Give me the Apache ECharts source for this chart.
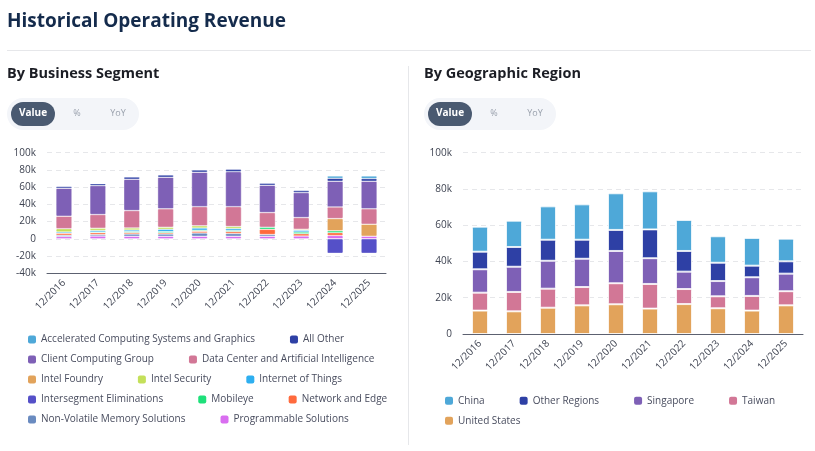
<!DOCTYPE html>
<html lang="en">
  <head>
    <meta charset="UTF-8" />
    <meta name="viewport" content="width=device-width, initial-scale=1.0" />
    <title>Historical Operating Revenue</title>
    <style>
      html,
      body {
        margin: 0;
        padding: 0;
        background: #fff;
      }
      #container {
        width: 815px;
        height: 451px;
      }
    </style>
    <script src="https://cdn.jsdelivr.net/npm/echarts@6/dist/echarts.min.js"></script>
  </head>
  <body>
    <div id="container"></div>
    <script>
      const years = ['12/2016', '12/2017', '12/2018', '12/2019', '12/2020', '12/2021', '12/2022', '12/2023', '12/2024', '12/2025']

      // business segments, $M
      const acceleratedComputing = [null, null, null, null, null, null, null, null, 2700, 3000]
      const allOther = [2000, 2300, 2600, 2700, 2700, 2800, 2300, 2300, 3400, 3100]
      const clientComputing = [32400, 33600, 36400, 36700, 39900, 40600, 31700, 29000, 29800, 32100]
      const dataCenterAI = [14500, 15800, 20100, 21300, 22300, 23100, 17000, 13500, 13600, 17800]
      const intelFoundry = [null, null, null, null, null, null, null, 1200, 14200, 13900]
      const intelSecurity = [3800, 2600, 2300, 2300, 2500, 2300, null, null, null, null]
      const internetOfThings = [1500, 2000, 2000, 2800, 2600, 2200, null, 2100, null, null]
      const intersegmentElim = [null, null, null, null, null, null, null, null, -16800, -16800]
      const mobileye = [null, 600, 1000, 1200, 1200, 1400, 2500, 2000, 2100, null]
      const networkEdge = [2200, 2200, 1800, 1600, 2000, 2200, 6000, 2600, 3300, null]
      const nonVolatileMemory = [1500, 1800, 2600, 2600, 3800, 3200, 2000, null, null, null]
      const programmable = [2800, 3200, 3000, 3000, 3000, 3000, 3000, 3300, 3900, 3100]

      // geographic regions, $M
      const china = [13800, 14500, 18400, 19500, 20200, 21000, 17100, 14600, 15300, 12500]
      const otherRegions = [9700, 10900, 11600, 10500, 11600, 15900, 11400, 10100, 6400, 6800]
      const singapore = [12900, 13900, 15400, 15600, 17800, 14200, 9600, 8400, 10300, 9700]
      const taiwan = [9900, 10700, 10500, 10100, 11600, 13600, 8300, 6600, 8100, 7800]
      const unitedStates = [12900, 12500, 14500, 15800, 16400, 14000, 16500, 14200, 12900, 15800]

      // bottom of the stack first
      const segmentSeries = [
        ['Programmable Solutions', programmable, '#d96ef0'],
        ['Non-Volatile Memory Solutions', nonVolatileMemory, '#6a8bc0'],
        ['Network and Edge', networkEdge, '#ff6a3d'],
        ['Mobileye', mobileye, '#1ee07a'],
        ['Internet of Things', internetOfThings, '#2eaff0'],
        ['Intel Security', intelSecurity, '#c4e05a'],
        ['Intel Foundry', intelFoundry, '#e2a35b'],
        ['Data Center and Artificial Intelligence', dataCenterAI, '#d27796'],
        ['Client Computing Group', clientComputing, '#7e60b6'],
        ['All Other', allOther, '#2e40a5'],
        ['Accelerated Computing Systems and Graphics', acceleratedComputing, '#4ea8d8'],
        ['Intersegment Eliminations', intersegmentElim, '#5550c8'],
      ]
      const regionSeries = [
        ['United States', unitedStates, '#e2a35b'],
        ['Taiwan', taiwan, '#d27796'],
        ['Singapore', singapore, '#7e60b6'],
        ['Other Regions', otherRegions, '#2e40a5'],
        ['China', china, '#4ea8d8'],
      ]

      const segmentLegendRows = [
        ['Accelerated Computing Systems and Graphics', 'All Other'],
        ['Client Computing Group', 'Data Center and Artificial Intelligence'],
        ['Intel Foundry', 'Intel Security', 'Internet of Things'],
        ['Intersegment Eliminations', 'Mobileye', 'Network and Edge'],
        ['Non-Volatile Memory Solutions', 'Programmable Solutions'],
      ]
      const regionLegendRows = [['China', 'Other Regions', 'Singapore', 'Taiwan'], ['United States']]

      const FONT = 'Open Sans'
      const chart = echarts.init(document.getElementById('container'))

      function kFormat(v) {
        return v === 0 ? '0' : v / 1000 + 'k'
      }

      function makeXAxis(gridIndex) {
        return {
          gridIndex: gridIndex,
          type: 'category',
          data: years,
          axisLine: { onZero: false, lineStyle: { color: '#5c6170', width: 1 } },
          axisTick: { alignWithLabel: true, length: 6, lineStyle: { color: '#5c6170' } },
          axisLabel: { rotate: 45, fontSize: 10, color: '#3f4452', margin: 8, fontFamily: FONT },
        }
      }
      function makeYAxis(gridIndex, min) {
        return {
          gridIndex: gridIndex,
          type: 'value',
          min: min,
          max: 100000,
          interval: 20000,
          axisLine: { show: false },
          axisTick: { show: false },
          axisLabel: { formatter: kFormat, fontSize: 10, color: '#3f4452', margin: 11, fontFamily: FONT },
          splitLine: { lineStyle: { color: '#e6e7ea', type: [5, 4] } },
        }
      }
      function makeBars(list, axis, stack, border) {
        return list.map(function (s) {
          return {
            name: s[0],
            type: 'bar',
            stack: stack,
            xAxisIndex: axis,
            yAxisIndex: axis,
            barWidth: 16,
            data: s[1],
            itemStyle: { color: s[2], borderColor: 'rgba(255,255,255,0.75)', borderWidth: border, borderRadius: 1 },
          }
        })
      }
      function makeLegends(rows, left, top) {
        return rows.map(function (row, i) {
          return {
            data: row,
            left: left,
            top: top + i * 20,
            padding: 0,
            orient: 'horizontal',
            icon: 'roundRect',
            itemWidth: 8,
            itemHeight: 8,
            itemGap: 35,
            itemStyle: { borderWidth: 0 },
            textStyle: { fontSize: 10, color: '#484c5e', fontFamily: FONT, lineHeight: 12 },
          }
        })
      }
      function pill(x) {
        return [
          { type: 'rect', shape: { x: x, y: 98, width: 132, height: 32, r: 16 }, style: { fill: '#f3f5f9' } },
          { type: 'rect', shape: { x: x + 4, y: 102, width: 44, height: 24, r: 12 }, style: { fill: '#4a5a71' } },
          { type: 'text', x: x + 26, y: 113, style: { text: 'Value', fill: '#fff', font: 'bold 10px ' + FONT, align: 'center', verticalAlign: 'middle' } },
          { type: 'text', x: x + 70, y: 113, style: { text: '%', fill: '#9aa1ad', font: '9px ' + FONT, align: 'center', verticalAlign: 'middle' } },
          { type: 'text', x: x + 111, y: 113, style: { text: 'YoY', fill: '#9aa1ad', font: '9px ' + FONT, align: 'center', verticalAlign: 'middle' } },
        ]
      }

      const options = {
        animation: false,
        textStyle: { fontFamily: FONT },
        grid: [
          { left: 47, top: 152.7, width: 339, height: 120.6 },
          { left: 463, top: 152.7, width: 340, height: 181.3 },
        ],
        xAxis: [makeXAxis(0), makeXAxis(1)],
        yAxis: [makeYAxis(0, -40000), makeYAxis(1, 0)],
        legend: makeLegends(segmentLegendRows, 28, 333.6).concat(makeLegends(regionLegendRows, 445, 394.7)),
        series: makeBars(segmentSeries, 0, 'segment', 0.5).concat(makeBars(regionSeries, 1, 'region', 1)),
        graphic: {
          elements: [
            { type: 'text', x: 7, y: 22, style: { text: 'Historical Operating Revenue', fill: '#142b4c', font: 'bold 19px ' + FONT, verticalAlign: 'middle' } },
            { type: 'line', shape: { x1: 7, y1: 50.5, x2: 811, y2: 50.5 }, style: { stroke: '#e6e7ea', lineWidth: 1 } },
            { type: 'line', shape: { x1: 408.5, y1: 66, x2: 408.5, y2: 445 }, style: { stroke: '#e6e7ea', lineWidth: 1 } },
            { type: 'text', x: 7, y: 74, style: { text: 'By Business Segment', fill: '#1b1d24', font: 'bold 14.5px ' + FONT, verticalAlign: 'middle' } },
            { type: 'text', x: 424, y: 74, style: { text: 'By Geographic Region', fill: '#1b1d24', font: 'bold 14.5px ' + FONT, verticalAlign: 'middle' } },
          ]
            .concat(pill(7))
            .concat(pill(424)),
        },
      }

      chart.setOption(options)
    </script>
  </body>
</html>
